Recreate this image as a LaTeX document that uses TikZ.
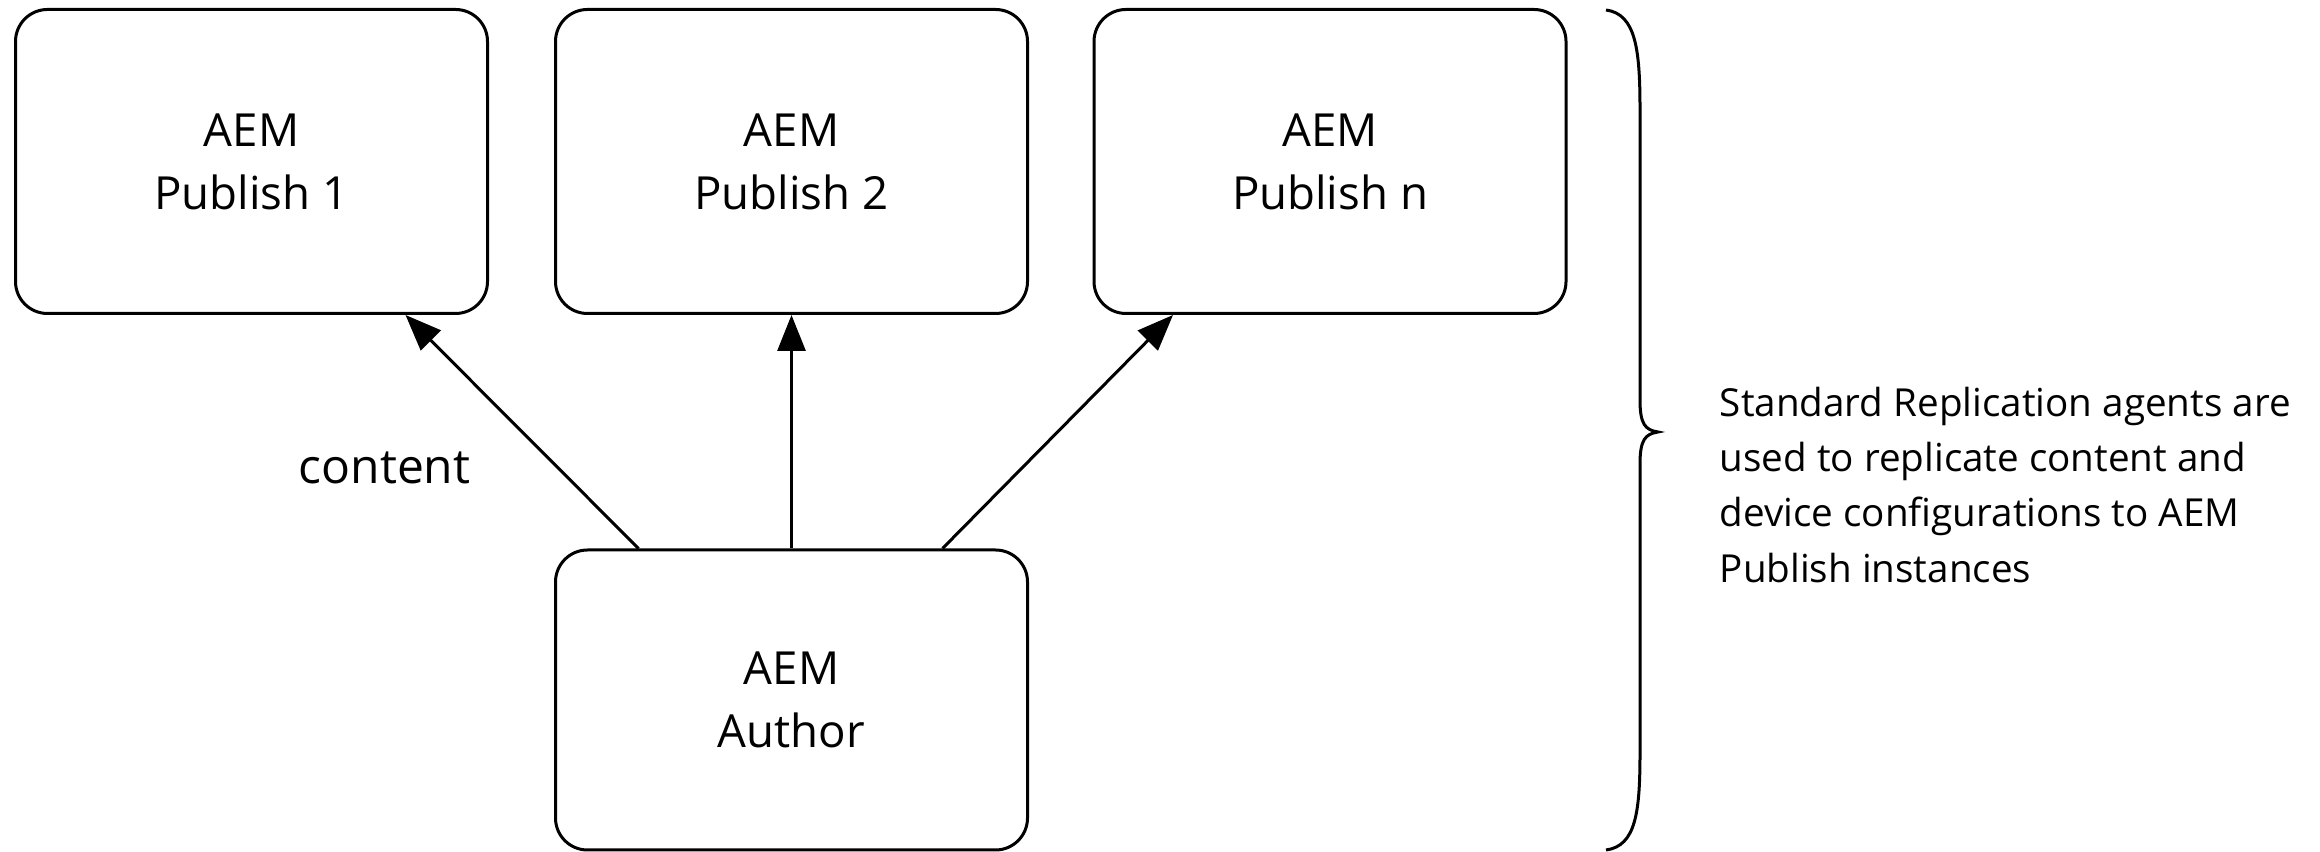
\documentclass[tikz,border=0pt]{standalone}
\usepackage{fontspec}
\setmainfont{Open Sans}
\usetikzlibrary{arrows.meta,calc}
\begin{document}
\begin{tikzpicture}[x=0.25pt,y=-0.25pt,
  box/.style={draw,line width=0.75pt,rounded corners=8pt,minimum width=118pt,minimum height=76pt,inner sep=0pt,align=center,font=\fontsize{11.4}{15.8}\selectfont},
  arr/.style={line width=0.75pt,-{Triangle[length=9pt,width=7pt]}}]
\useasboundingbox (0,0) rectangle (2320,852);
\node[box] (p1) at (251.5,161.5) {AEM\\Publish 1};
\node[box] (p2) at (791.5,161.5) {AEM\\Publish 2};
\node[box] (p3) at (1330,161.5) {AEM\\Publish n};
\node[box,minimum height=75pt] (au) at (791.5,700) {AEM\\Author};
\draw[arr] ($(au.north)+(-153,0)$) -- ($(p1.south)+(154,0)$);
\draw[arr] (au.north) -- (p2.south);
\draw[arr] ($(au.north)+(151,0)$) -- ($(p3.south)+(-157,0)$);
\node[anchor=base west,inner sep=0pt,font=\fontsize{12}{14}\selectfont] (lab) at (298,484) {content};
\draw[line width=0.75pt] (1606,10) .. controls (1636,14) and (1640,50) .. (1640,110) -- (1640,400) .. controls (1640,424) and (1645,430) .. (1658,432) .. controls (1645,434) and (1640,440) .. (1640,464) -- (1640,752) .. controls (1640,812) and (1636,846) .. (1606,850);
\node[anchor=north west,inner sep=0pt,align=left,font=\fontsize{9.65}{13.85}\selectfont] (txt) at (1719,386) {Standard Replication agents are\\used to replicate content and\\device configurations to AEM\\Publish instances};
\end{tikzpicture}
\end{document}
